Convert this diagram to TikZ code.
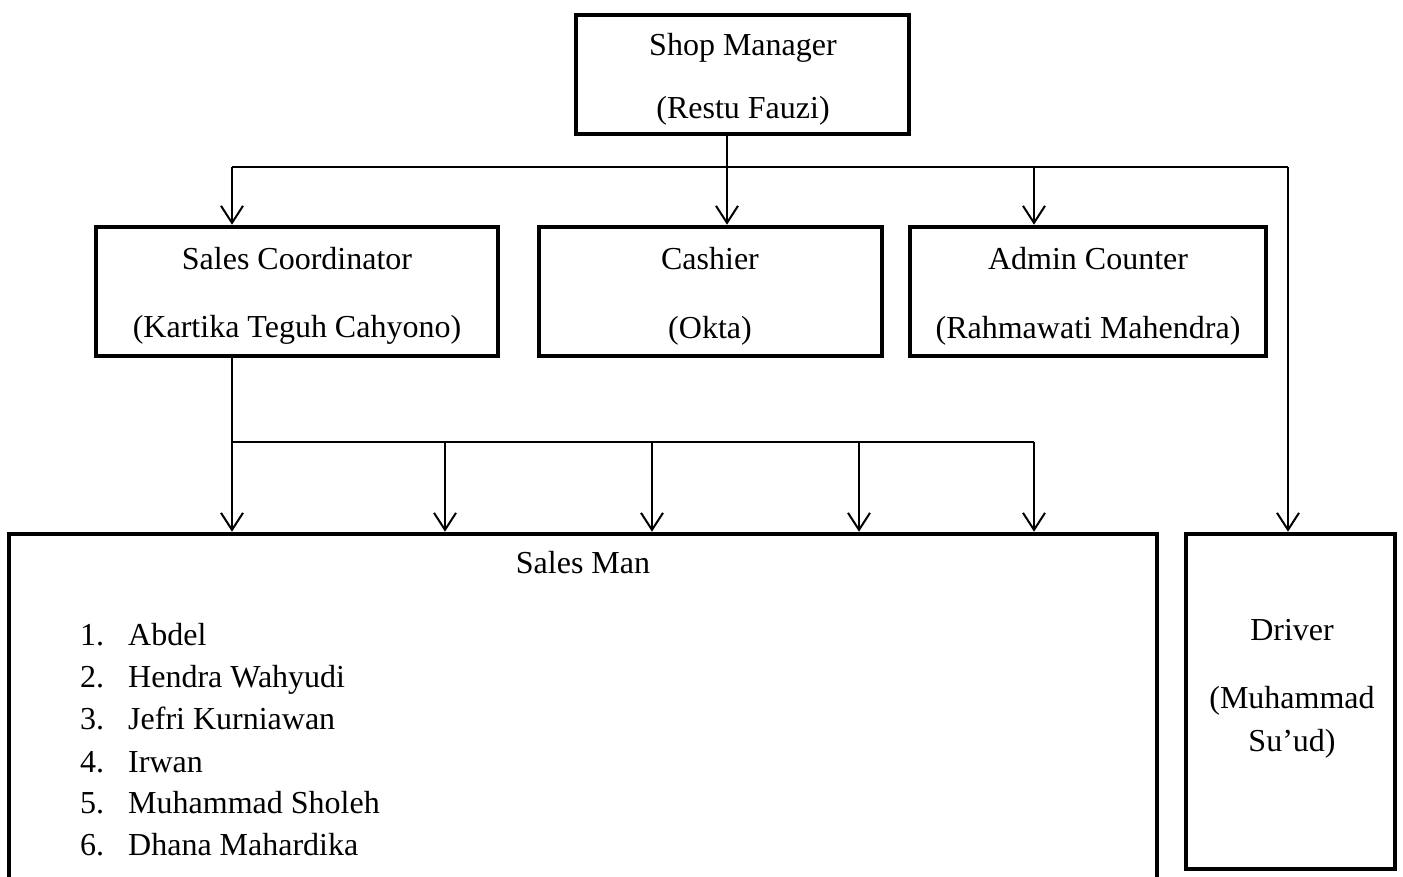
\documentclass[tikz,border=0pt]{standalone}
\usepackage{fontspec}
\setmainfont{Liberation Serif}
\usetikzlibrary{arrows.meta}
\begin{document}
\begin{tikzpicture}[x=1pt,y=-1pt,
  box/.style={draw,line width=4.6pt,rectangle,inner sep=0pt},
  lbl/.style={anchor=base,inner sep=0pt,font=\fontsize{32}{38}\selectfont},
  lbll/.style={anchor=base west,inner sep=0pt,font=\fontsize{32}{38}\selectfont},
  conn/.style={line width=2pt},
  arr/.style={conn,-{Straight Barb[length=17pt,width=22pt,line width=2pt]}}
]
\useasboundingbox (0,0) rectangle (1403,876);

% boxes
\node[box,minimum width=333pt,minimum height=119pt] (sm) at (742.5,74.5) {};
\node[box,minimum width=402pt,minimum height=129pt] (sc) at (297,291.5) {};
\node[box,minimum width=343pt,minimum height=129pt] (cash) at (710.5,291.5) {};
\node[box,minimum width=356pt,minimum height=129pt] (adm) at (1088,291.5) {};
\node[box,minimum width=1148pt,minimum height=346pt] (smn) at (583,707) {};
\node[box,minimum width=209pt,minimum height=335pt] (drv) at (1290.5,701.5) {};

% texts
\node[lbl] (t1) at (743,55) {Shop Manager};
\node[lbl] (t2) at (743,118) {(Restu Fauzi)};
\node[lbl] (t3) at (297,269) {Sales Coordinator};
\node[lbl] (t4) at (297,337) {(Kartika Teguh Cahyono)};
\node[lbl] (t5) at (710,269) {Cashier};
\node[lbl] (t6) at (710,338) {(Okta)};
\node[lbl] (t7) at (1088,269) {Admin Counter};
\node[lbl] (t8) at (1088,338) {(Rahmawati Mahendra)};
\node[lbl] (t9) at (583,573) {Sales Man};
\node[lbl] (t10) at (1292,640) {Driver};
\node[lbl] (t11) at (1292,708) {(Muhammad};
\node[lbl] (t12) at (1292,751) {Su’ud)};

\node[lbll] (n1) at (80,645) {1.};
\node[lbll] (n2) at (80,687) {2.};
\node[lbll] (n3) at (80,729) {3.};
\node[lbll] (n4) at (80,772) {4.};
\node[lbll] (n5) at (80,813) {5.};
\node[lbll] (n6) at (80,855) {6.};
\node[lbll] (p1) at (128,645) {Abdel};
\node[lbll] (p2) at (128,687) {Hendra Wahyudi};
\node[lbll] (p3) at (128,729) {Jefri Kurniawan};
\node[lbll] (p4) at (128,772) {Irwan};
\node[lbll] (p5) at (128,813) {Muhammad Sholeh};
\node[lbll] (p6) at (128,855) {Dhana Mahardika};

% connector coordinates
\coordinate (busA) at (0,167);
\coordinate (busB) at (0,442);
\coordinate (xa) at (232,0);
\coordinate (xb) at (727,0);
\coordinate (xc) at (1034,0);
\coordinate (xd) at (1288,0);
\coordinate (xe) at (445,0);
\coordinate (xf) at (652,0);
\coordinate (xg) at (859,0);

% top level connectors
\draw[conn] (xa |- busA) -- (xd |- busA);
\draw[arr] (sm.south -| xb) -- (cash.north -| xb);
\draw[arr] (xa |- busA) -- (sc.north -| xa);
\draw[arr] (xc |- busA) -- (adm.north -| xc);
\draw[arr] (xd |- busA) -- (drv.north -| xd);

% sales coordinator to sales man
\draw[conn] (sc.south -| xa) -- (xa |- busB) -- (xc |- busB);
\draw[arr] (xa |- busB) -- (smn.north -| xa);
\draw[arr] (xe |- busB) -- (smn.north -| xe);
\draw[arr] (xf |- busB) -- (smn.north -| xf);
\draw[arr] (xg |- busB) -- (smn.north -| xg);
\draw[arr] (xc |- busB) -- (smn.north -| xc);
\end{tikzpicture}
\end{document}
